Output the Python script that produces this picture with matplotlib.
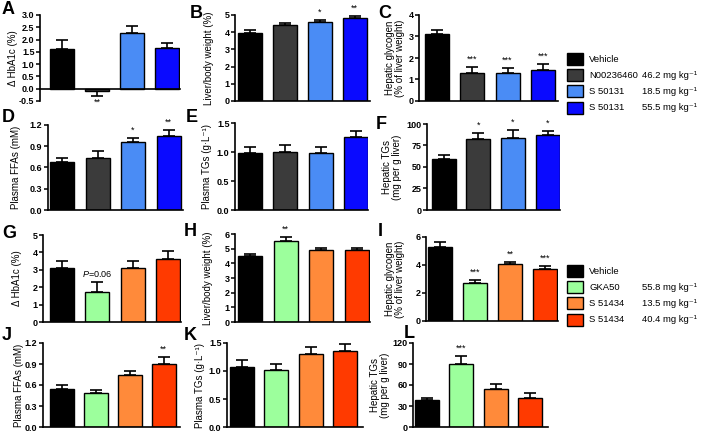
import matplotlib
matplotlib.use("Agg")
import matplotlib.pyplot as plt
from matplotlib.patches import Rectangle

plt.rcParams['font.family'] = ['Liberation Sans', 'DejaVu Sans']
plt.rcParams['mathtext.fontset'] = 'custom'
plt.rcParams['mathtext.it'] = 'Liberation Sans:italic'
plt.rcParams['mathtext.rm'] = 'Liberation Sans'

# ---------------- data ----------------
groups_top = ["Vehicle", "N00236460", "S 50131", "S 50131"]
doses_top = ["", "46.2 mg kg\u207b\u00b9", "18.5 mg kg\u207b\u00b9", "55.5 mg kg\u207b\u00b9"]
groups_bot = ["Vehicle", "GKA50", "S 51434", "S 51434"]
doses_bot = ["", "55.8 mg kg\u207b\u00b9", "13.5 mg kg\u207b\u00b9", "40.4 mg kg\u207b\u00b9"]

colors_top = ["#000000", "#3b3b3b", "#4a8cf5", "#0a0aff"]
colors_bot = ["#000000", "#9cff9c", "#ff8a3a", "#ff3a00"]

A_vals = [1.6, -0.1, 2.25, 1.65]; A_err = [0.38, 0.18, 0.3, 0.22]; A_sig = ["", "**", "", ""]
B_vals = [3.95, 4.4, 4.58, 4.8]; B_err = [0.2, 0.12, 0.12, 0.15]; B_sig = ["", "", "*", "**"]
C_vals = [3.1, 1.3, 1.3, 1.45]; C_err = [0.2, 0.28, 0.23, 0.28]; C_sig = ["", "***", "***", "***"]
D_vals = [0.68, 0.73, 0.96, 1.05]; D_err = [0.06, 0.1, 0.06, 0.08]; D_sig = ["", "", "*", "**"]
E_vals = [0.98, 1.0, 0.99, 1.26]; E_err = [0.1, 0.12, 0.09, 0.1]; E_sig = ["", "", "", ""]
F_vals = [59, 83, 84, 87]; F_err = [5, 6, 9, 5]; F_sig = ["", "*", "*", "*"]
G_vals = [3.1, 1.7, 3.1, 3.6]; G_err = [0.38, 0.6, 0.38, 0.5]; G_sig = ["", "$\\it{P}$=0.06", "", ""]
H_vals = [4.5, 5.5, 4.9, 4.9]; H_err = [0.12, 0.3, 0.15, 0.15]; H_sig = ["", "**", "", ""]
I_vals = [5.3, 2.7, 4.05, 3.7]; I_err = [0.35, 0.22, 0.15, 0.2]; I_sig = ["", "***", "**", "***"]
J_vals = [0.54, 0.49, 0.74, 0.9]; J_err = [0.06, 0.04, 0.06, 0.1]; J_sig = ["", "", "", "**"]
K_vals = [1.07, 1.02, 1.31, 1.36]; K_err = [0.12, 0.1, 0.12, 0.12]; K_sig = ["", "", "", ""]
L_vals = [39, 90, 54, 42]; L_err = [3, 12, 7, 6]; L_sig = ["", "***", "", ""]

A_ticks = [-0.5, 0.0, 0.5, 1.0, 1.5, 2.0, 2.5, 3.0]
B_ticks = [0, 1, 2, 3, 4, 5]
C_ticks = [0, 1, 2, 3, 4]
D_ticks = [0.0, 0.3, 0.6, 0.9, 1.2]
E_ticks = [0.0, 0.5, 1.0, 1.5]
F_ticks = [0, 25, 50, 75, 100]
G_ticks = [0, 1, 2, 3, 4, 5]
H_ticks = [0, 1, 2, 3, 4, 5, 6]
I_ticks = [0, 2, 4, 6]
J_ticks = [0.0, 0.3, 0.6, 0.9, 1.2]
K_ticks = [0.0, 0.5, 1.0, 1.5]
L_ticks = [0, 30, 60, 90, 120]

ylabels = {
    "A": "\u0394 HbA1c (%)", "B": "Liver/body weight (%)",
    "C": "Hepatic glycogen\n(% of liver weight)", "D": "Plasma FFAs (mM)",
    "E": "Plasma TGs (g\u00b7L\u207b\u00b9)", "F": "Hepatic TGs\n(mg per g liver)",
    "G": "\u0394 HbA1c (%)", "H": "Liver/body weight (%)",
    "I": "Hepatic glycogen\n(% of liver weight)", "J": "Plasma FFAs (mM)",
    "K": "Plasma TGs (g\u00b7L\u207b\u00b9)", "L": "Hepatic TGs\n(mg per g liver)",
}

# ---------------- layout (pixels) ----------------
W, H = 709, 436
fig = plt.figure(figsize=(W / 100, H / 100), dpi=100)

# name: (data, err, sig, ticks, colors, fmt, xl, xr, ytop, ybot, c0, spacing, label_right_px, letter_xy)
panels = [
    ("A", A_vals, A_err, A_sig, A_ticks, colors_top, "%.1f", 40, 180, 15, 101, 62, 35, 18, (2, 1)),
    ("B", B_vals, B_err, B_sig, B_ticks, colors_top, "%d", 235, 370, 15, 101, 249.5, 35, 214, (190, 5)),
    ("C", C_vals, C_err, C_sig, C_ticks, colors_top, "%d", 419, 558, 15, 101, 436.5, 35.5, 405, (378, 5)),
    ("D", D_vals, D_err, D_sig, D_ticks, colors_top, "%.1f", 48, 183, 125, 210, 62, 35.5, 21, (2, 109)),
    ("E", E_vals, E_err, E_sig, E_ticks, colors_top, "%.1f", 235, 368, 123, 210, 250, 35.3, 212, (186, 109)),
    ("F", F_vals, F_err, F_sig, F_ticks, colors_top, "%d", 427, 560, 124, 210, 444, 34.5, 402, (376, 116)),
    ("G", G_vals, G_err, G_sig, G_ticks, colors_bot, "%d", 43, 181, 235, 322, 61.5, 35.5, 22, (2, 225)),
    ("H", H_vals, H_err, H_sig, H_ticks, colors_bot, "%d", 235, 370, 234, 322, 250, 35.5, 213, (184, 223)),
    ("I", I_vals, I_err, I_sig, I_ticks, colors_bot, "%d", 426, 558, 237, 321, 440, 35, 405, (378, 223)),
    ("J", J_vals, J_err, J_sig, J_ticks, colors_bot, "%.1f", 43, 180, 343, 427, 61.5, 34, 24, (2, 327)),
    ("K", K_vals, K_err, K_sig, K_ticks, colors_bot, "%.1f", 227, 363, 343, 427, 241.5, 34.5, 205, (184, 327)),
    ("L", L_vals, L_err, L_sig, L_ticks, colors_bot, "%d", 413, 548, 343, 427, 426.5, 34.5, 390, (404, 325)),
]

bar_px = 24
for (name, vals, err, sig, ticks, cols, fmt, xl, xr, ytop, ybot, c0, sp,
     lab_r, letter_xy) in panels:
    ax = fig.add_axes([xl / W, 1 - ybot / H, (xr - xl) / W, (ybot - ytop) / H])
    x = list(range(len(vals)))
    ax.bar(x, vals, width=bar_px / sp, color=cols, edgecolor="black", linewidth=1.0, zorder=2)
    lo = [e if v < 0 else 0 for v, e in zip(vals, err)]
    hi = [0 if v < 0 else e for v, e in zip(vals, err)]
    ax.errorbar(x, vals, yerr=[lo, hi], fmt="none", ecolor="black", elinewidth=1.2,
                capsize=4.2, capthick=1.2, zorder=1)
    ax.set_xlim((xl - c0) / sp, (xr - c0) / sp)
    ax.set_ylim(ticks[0], ticks[-1])
    ax.set_yticks(ticks)
    ax.set_yticklabels([fmt % t for t in ticks], fontsize=6.5, fontweight="bold")
    ax.set_xticks([])
    rng = ticks[-1] - ticks[0]
    for xi, v, e, s in zip(x, vals, err, sig):
        if not s:
            continue
        if v < 0:
            ax.text(xi, v - e - 0.03 * rng, s, ha="center", va="top", fontsize=6.5)
        else:
            ax.text(xi, v + e + 0.04 * rng, s, ha="center", va="bottom", fontsize=6.5)
    for sp_name in ("top", "right"):
        ax.spines[sp_name].set_visible(False)
    ax.spines["left"].set_linewidth(1.2)
    ax.spines["bottom"].set_linewidth(1.2)
    if ticks[0] < 0:
        ax.spines["bottom"].set_position(("data", 0))
    ax.tick_params(axis="y", direction="out", length=3, width=1.1, pad=1.0)
    ax.set_facecolor("none")
    ax.set_ylabel(ylabels[name], fontsize=7, linespacing=1.0)
    ax.yaxis.set_label_coords((lab_r - xl) / (xr - xl), 0.5)
    fig.text(letter_xy[0] / W, 1 - letter_xy[1] / H, name, fontsize=13, fontweight="bold",
             ha="left", va="top")

# ---------------- legends ----------------
def draw_legend(y_first, names, doses, cols):
    lax = fig.add_axes([0, 0, 1, 1], facecolor="none")
    lax.set_xlim(0, W)
    lax.set_ylim(H, 0)
    lax.axis("off")
    for i, (n, d, c) in enumerate(zip(names, doses, cols)):
        yc = y_first + i * 16.2
        lax.add_patch(Rectangle((567, yc - 6), 16, 12, facecolor=c, edgecolor="black", linewidth=1.0))
        lax.text(589, yc, n, fontsize=6.8, va="center", ha="left")
        if d:
            lax.text(642, yc, d, fontsize=6.8, va="center", ha="left")

draw_legend(59, groups_top, doses_top, colors_top)
draw_legend(271, groups_bot, doses_bot, colors_bot)

fig.savefig("out.png", dpi=100)
